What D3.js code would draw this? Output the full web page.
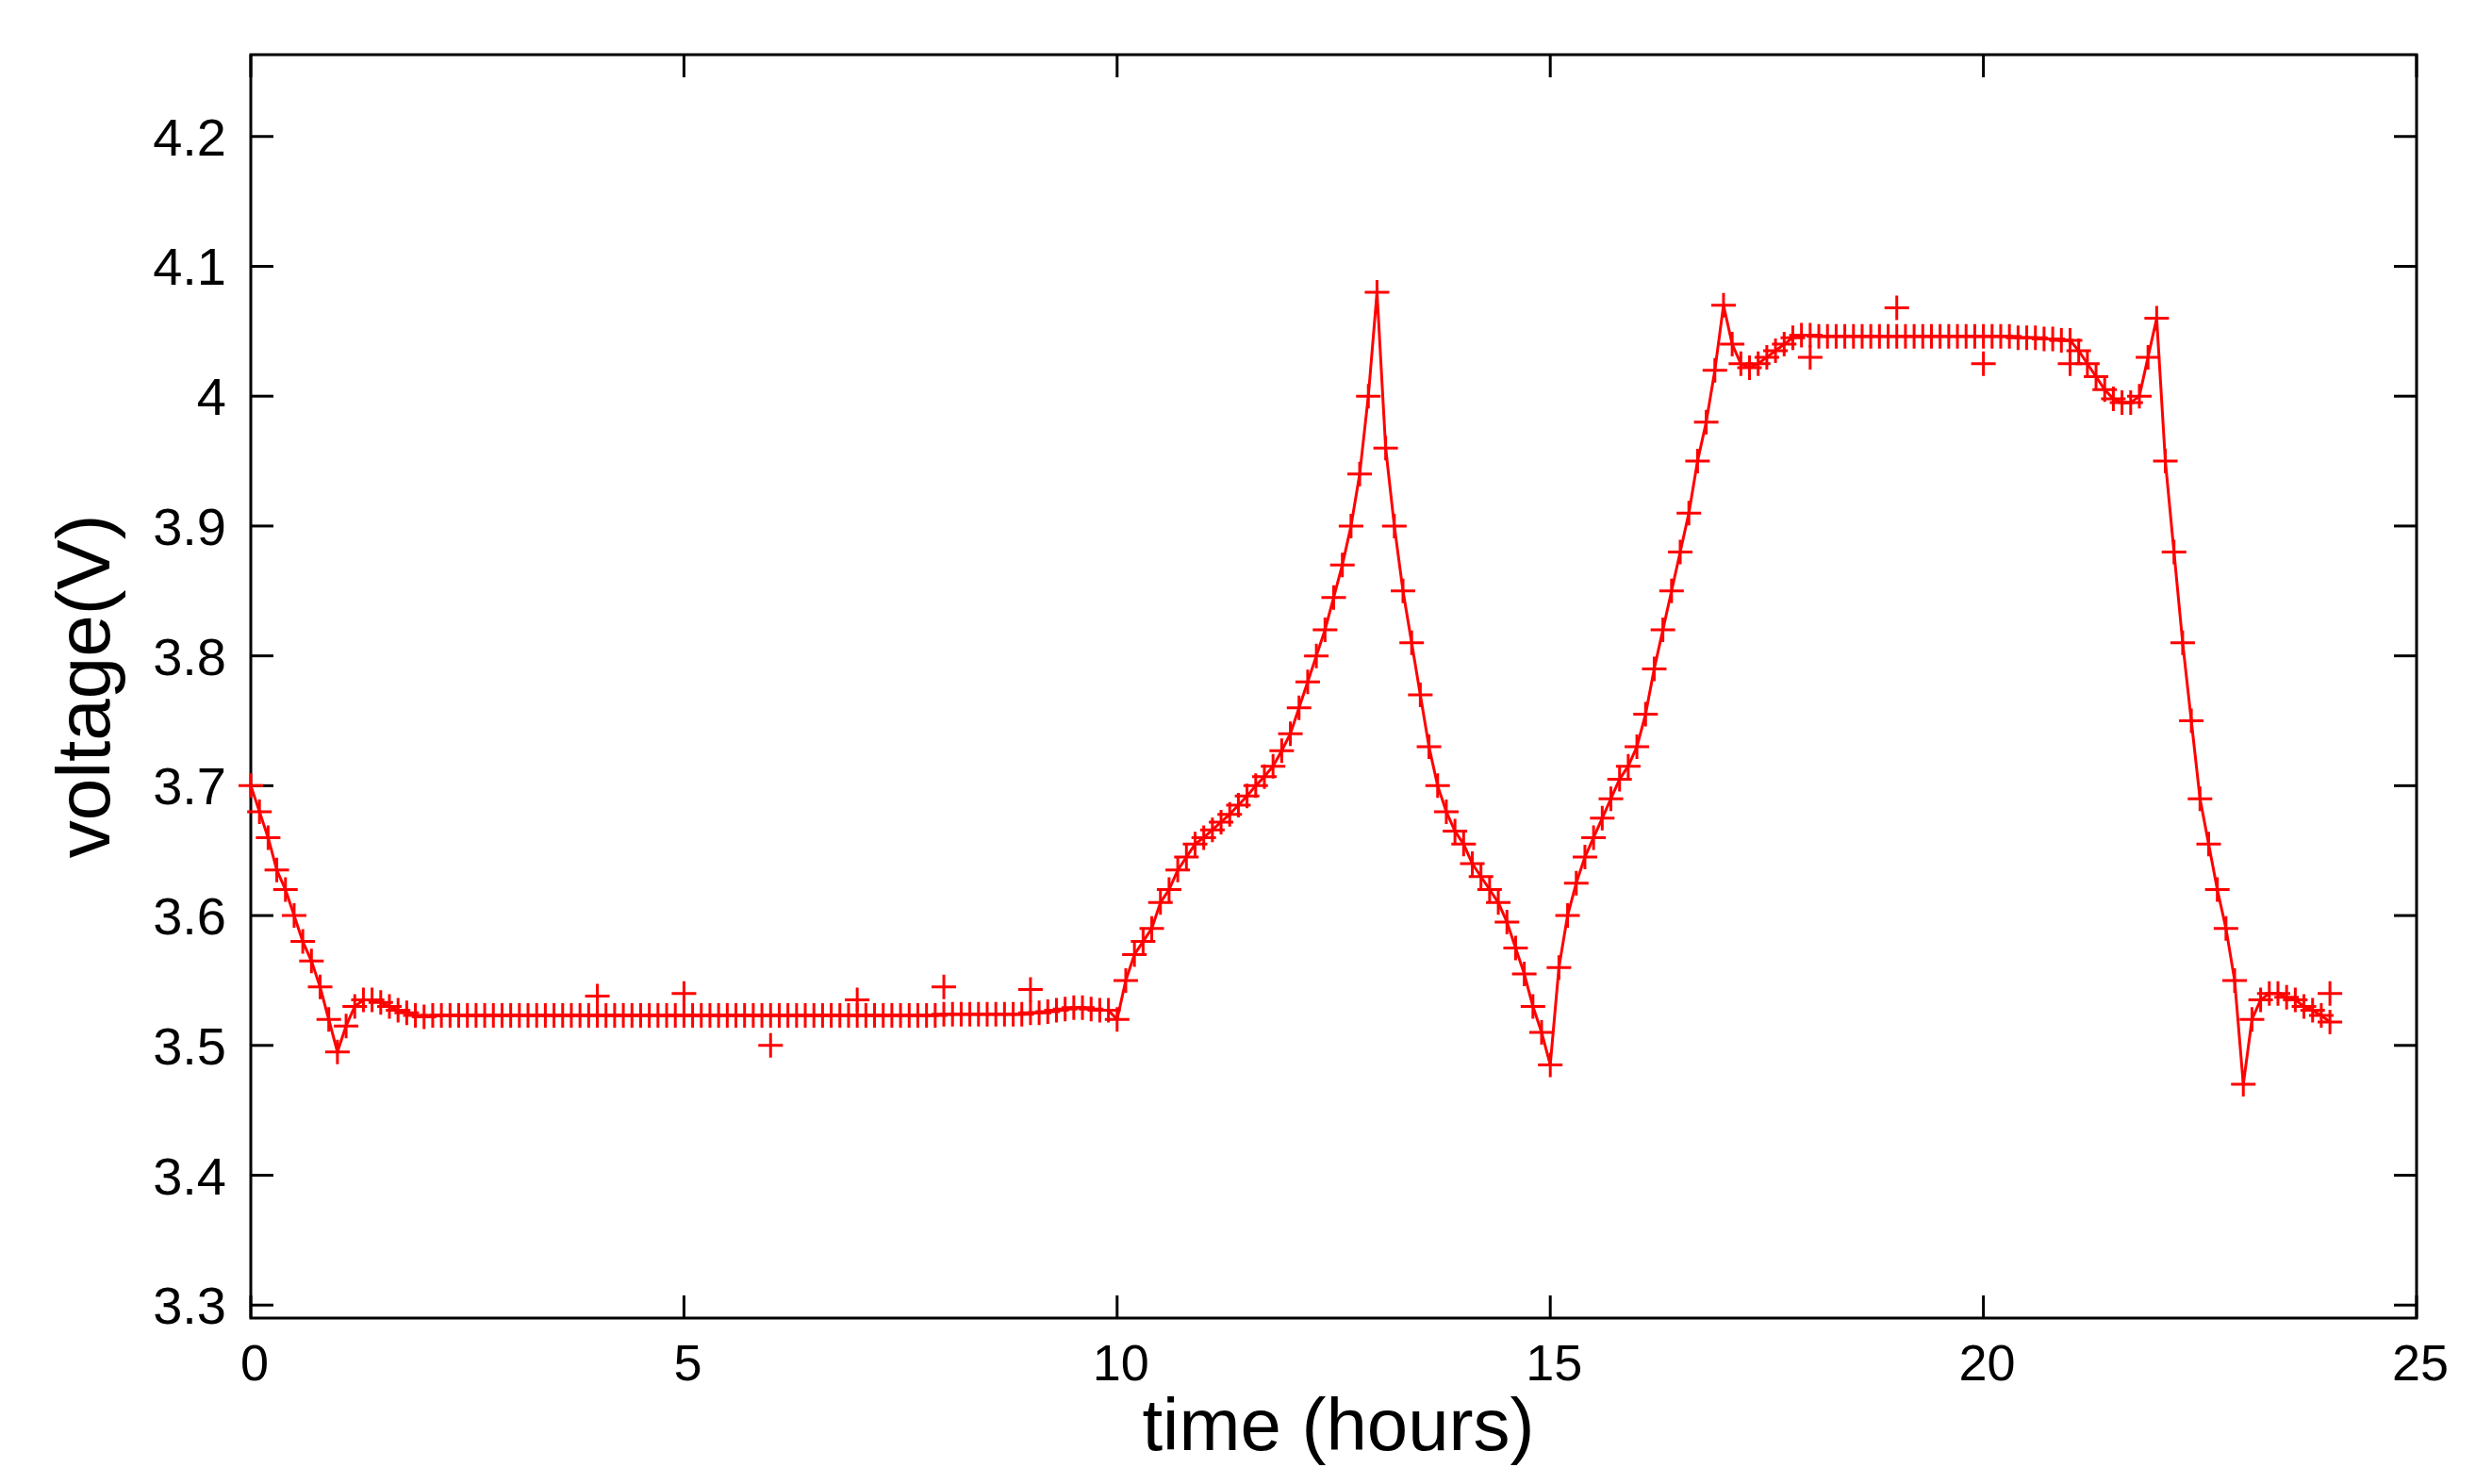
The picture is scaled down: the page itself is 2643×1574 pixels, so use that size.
<!DOCTYPE html>
<html><head><meta charset="utf-8">
<script src="https://cdn.jsdelivr.net/npm/d3@7"></script>
<style>body{margin:0;background:#fff}svg text{font-family:"Liberation Sans",Arial,sans-serif}</style>
</head><body><svg id="c" width="2643" height="1574"></svg>
<script>
const timeStep = 0.1; // hours between samples, starting at 0
const voltage = [
3.700,3.680,3.660,3.635,3.620,3.600,3.580,3.565,3.545,3.520,3.495,
3.515,3.530,3.535,3.535,3.533,3.530,3.527,3.525,3.523,3.522,
3.523,3.523,3.523,3.523,3.523,3.523,3.523,3.523,3.523,3.523,
3.523,3.523,3.523,3.523,3.523,3.523,3.523,3.523,3.523,3.523,
3.523,3.523,3.523,3.523,3.523,3.523,3.523,3.523,3.523,3.523,
3.523,3.523,3.523,3.523,3.523,3.523,3.523,3.523,3.523,3.523,
3.523,3.523,3.523,3.523,3.523,3.523,3.523,3.523,3.523,3.523,
3.523,3.523,3.523,3.523,3.523,3.523,3.523,3.523,3.523,3.524,
3.524,3.524,3.524,3.524,3.524,3.524,3.524,3.524,3.524,3.525,
3.525,3.526,3.527,3.528,3.529,3.529,3.528,3.527,3.527,3.520,
3.550,3.570,3.580,3.590,3.610,3.620,3.635,3.645,3.655,3.660,
3.666,3.672,3.678,3.685,3.692,3.700,3.707,3.715,3.727,3.740,
3.760,3.780,3.800,3.820,3.845,3.870,3.900,3.940,4.000,4.080,
3.960,3.900,3.850,3.810,3.770,3.730,3.700,3.680,3.665,3.655,
3.640,3.630,3.620,3.610,3.595,3.575,3.555,3.530,3.510,3.485,
3.560,3.600,3.625,3.645,3.660,3.675,3.690,3.705,3.715,3.730,
3.755,3.790,3.820,3.850,3.880,3.910,3.950,3.980,4.020,4.070,
4.040,4.025,4.022,4.025,4.030,4.035,4.040,4.045,4.047,4.047,
4.046,4.046,4.046,4.046,4.046,4.046,4.046,4.046,4.046,4.046,
4.046,4.046,4.046,4.046,4.046,4.046,4.046,4.046,4.046,4.046,
4.046,4.046,4.046,4.045,4.045,4.045,4.044,4.044,4.043,4.043,
4.035,4.025,4.015,4.005,3.998,3.995,3.995,4.000,4.030,4.060,
3.950,3.880,3.810,3.750,3.690,3.655,3.620,3.590,3.550,3.470,
3.520,3.535,3.540,3.540,3.537,3.535,3.530,3.527,3.523,3.518
];
const outlierTimes = [4,5,6,7,8,9,18,19,20,21,24];
const outlierVolts = [3.538,3.540,3.500,3.535,3.545,3.543,4.030,4.068,4.025,4.025,3.540];
const xTicks = [0,5,10,15,20,25];
const yTicks = [3.3,3.4,3.5,3.6,3.7,3.8,3.9,4.0,4.1,4.2];

const svg = d3.select("#c");
const L=266,R=2563,T=58,B=1398;
const x = d3.scaleLinear().domain([0,25]).range([L,R]);
const y = d3.scaleLinear().domain([3.290,4.263]).range([B,T]);
const pts = voltage.map((v,i)=>[i*timeStep,v]);
const outs = outlierTimes.map((t,i)=>[t,outlierVolts[i]]);

svg.append("rect").attr("x",L).attr("y",T).attr("width",R-L).attr("height",B-T)
 .attr("fill","none").attr("stroke","#000").attr("stroke-width",3);
const tl=24;
const fmt = d=> (d===4?"4":String(+d.toFixed(1)));
yTicks.forEach(d=>{
  svg.append("line").attr("x1",L).attr("x2",L+tl).attr("y1",y(d)).attr("y2",y(d)).attr("stroke","#000").attr("stroke-width",3);
  svg.append("line").attr("x1",R).attr("x2",R-tl).attr("y1",y(d)).attr("y2",y(d)).attr("stroke","#000").attr("stroke-width",3);
  svg.append("text").attr("x",L-26).attr("y",y(d)+20).attr("text-anchor","end").attr("font-size",56).text(fmt(d));
});
xTicks.forEach(d=>{
  svg.append("line").attr("x1",x(d)).attr("x2",x(d)).attr("y1",B).attr("y2",B-tl).attr("stroke","#000").attr("stroke-width",3);
  svg.append("line").attr("x1",x(d)).attr("x2",x(d)).attr("y1",T).attr("y2",T+tl).attr("stroke","#000").attr("stroke-width",3);
  svg.append("text").attr("x",x(d)+4).attr("y",B+66).attr("text-anchor","middle").attr("font-size",54).text(d);
});
svg.append("text").attr("x",(L+R)/2+5).attr("y",1538).attr("text-anchor","middle").attr("font-size",78).text("time (hours)");
svg.append("text").attr("transform",`translate(116,${(T+B)/2}) rotate(-90)`).attr("text-anchor","middle").attr("font-size",80).text("voltage(V)");

svg.append("path").datum(pts).attr("fill","none").attr("stroke","red").attr("stroke-width",3)
 .attr("d",d3.line().x(d=>x(d[0])).y(d=>y(d[1])));
const s=13;
svg.append("g").selectAll("path").data(pts.concat(outs)).join("path")
 .attr("d",d=>`M${x(d[0])-s},${y(d[1])}H${x(d[0])+s}M${x(d[0])},${y(d[1])-s}V${y(d[1])+s}`)
 .attr("stroke","red").attr("stroke-width",3).attr("fill","none");
</script></body></html>
